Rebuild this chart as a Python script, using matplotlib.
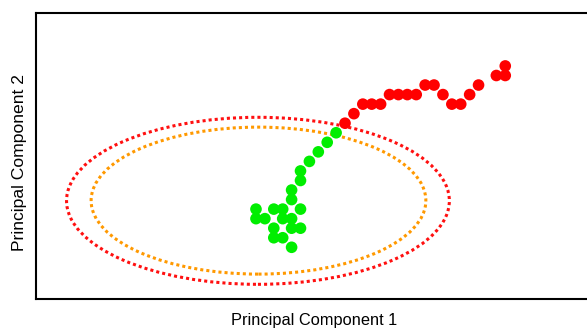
import numpy as np
import matplotlib.pyplot as plt
from matplotlib.patches import Ellipse

plt.rcParams['font.family'] = ['Liberation Sans', 'DejaVu Sans']

# scores of the two groups (PC1, PC2)
green_pc1 = [9, 8, 7, 6, 5, 5, 4, 4, 0, 2, 3, 5, 0, 1, 3, 4, 2, 4, 5, 2, 3, 4]
green_pc2 = [8, 7, 6, 5, 4, 3, 2, 1, 0, 0, 0, 0, -1, -1, -1, -1, -2, -2, -2, -3, -3, -4]
red_pc1 = [10, 11, 12, 13, 14, 15, 16, 17, 18, 19, 20, 21, 22, 23, 24, 25, 27, 28, 28]
red_pc2 = [9, 10, 11, 11, 11, 12, 12, 12, 12, 13, 13, 12, 11, 11, 12, 13, 14, 14, 15]

# confidence ellipses: center, width, height
outer_center = (0.22, 0.87)
outer_size = (43.0, 17.5)
inner_center = (0.28, 0.89)
inner_size = (37.6, 15.4)

fig = plt.figure(figsize=(5.87, 3.29), dpi=100)
ax = fig.add_axes([0.0606, 0.092, 0.948, 0.870])

ax.add_patch(Ellipse(outer_center, outer_size[0], outer_size[1], fill=False,
                     edgecolor='#ff1010', linewidth=2.2, linestyle=(0, (1, 1))))
ax.add_patch(Ellipse(inner_center, inner_size[0], inner_size[1], fill=False,
                     edgecolor='#ff9900', linewidth=2.2, linestyle=(0, (1, 1))))

ax.scatter(green_pc1, green_pc2, s=70, color='#00ee00', edgecolors='none', zorder=3)
ax.scatter(red_pc1, red_pc2, s=70, color='#ff0000', edgecolors='none', zorder=3)

ax.set_xlim(-24.76, 37.75)
ax.set_ylim(-9.39, 20.6)
ax.set_xticks([])
ax.set_yticks([])
for sp in ax.spines.values():
    sp.set_linewidth(1.5)
    sp.set_color('black')

ax.set_xlabel('Principal Component 1', fontsize=11.8)
ax.xaxis.set_label_coords(0.5, -0.05)
ax.set_ylabel('Principal Component 2', fontsize=12.6)
ax.yaxis.set_label_coords(-0.0155, 0.476)

fig.savefig('out.png', dpi=100)
